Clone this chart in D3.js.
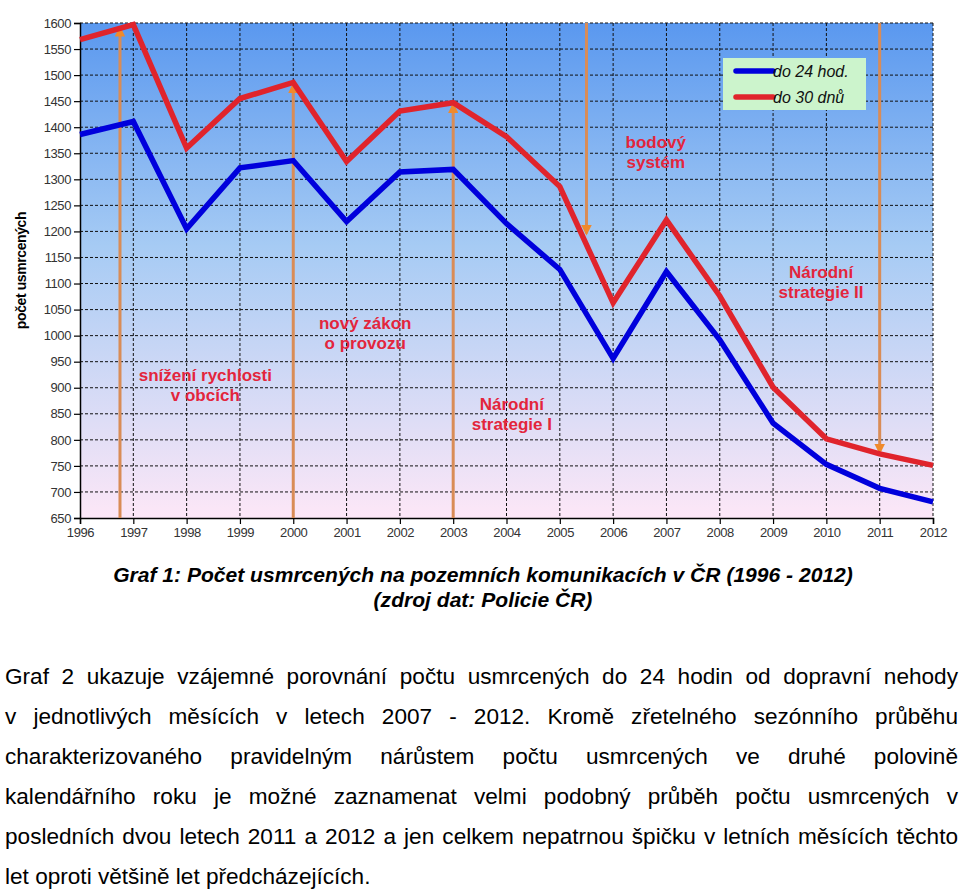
<!DOCTYPE html>
<html>
<head>
<meta charset="utf-8">
<script src="https://cdn.jsdelivr.net/npm/d3@7"></script>
<style>
  body { margin: 0; background: #fff; width: 960px; height: 892px; overflow: hidden; font-family: "Liberation Sans", Arial, sans-serif; }
  #chart { position: absolute; left: 0; top: 0; }
  #text { position: absolute; left: 5px; width: 953px; top: 657px; font-size: 22.6px; line-height: 40px; color: #000; }
  #text div { text-align: justify; text-align-last: justify; white-space: nowrap; }
  #text div.last { text-align-last: left; }
</style>
</head>
<body>
<div id="chart"></div>
<div id="text"></div>
<script>
// data
var years = [1996, 1997, 1998, 1999, 2000, 2001, 2002, 2003, 2004, 2005, 2006, 2007, 2008, 2009, 2010, 2011, 2012];
var do24hod = [1386, 1411, 1205, 1322, 1336, 1219, 1314, 1319, 1215, 1127, 956, 1123, 992, 832, 753, 707, 681];
var do30dnu = [1568, 1597, 1360, 1455, 1486, 1334, 1431, 1447, 1382, 1286, 1063, 1222, 1076, 901, 802, 773, 751];
var yTicks = d3.range(650, 1601, 50);
var seriesNames = ["do 24 hod.", "do 30 dnů"];

// measures (vertical arrows) : position in years, value at arrow tip, direction
var eventYears = [1996.75, 2000, 2003, 2005.5, 2011];
var eventTips = [1590, 1481, 1443, 1196, 776];
var eventDirs = ["up", "up", "up", "down", "down"];

var notes = [
  { x: 1998.35, y: 913, lines: ["snížení rychlosti", "v obcích"] },
  { x: 2001.35, y: 1013, lines: ["nový zákon", "o provozu"] },
  { x: 2004.1, y: 858, lines: ["Národní", "strategie I"] },
  { x: 2006.8, y: 1360, lines: ["bodový", "systém"] },
  { x: 2009.9, y: 1110, lines: ["Národní", "strategie II"] }
];

var captionLines = ["Graf 1: Počet usmrcených na pozemních komunikacích v ČR (1996 - 2012)", "(zdroj dat: Policie ČR)"];
var paragraph = [
  "Graf 2 ukazuje vzájemné porovnání počtu usmrcených do 24 hodin od dopravní nehody",
  "v\u00a0jednotlivých měsících v\u00a0letech 2007 - 2012. Kromě zřetelného sezónního průběhu",
  "charakterizovaného pravidelným nárůstem počtu usmrcených ve druhé polovině",
  "kalendářního roku je možné zaznamenat velmi podobný průběh počtu usmrcených v",
  "posledních dvou letech 2011 a 2012 a jen celkem nepatrnou špičku v letních měsících těchto",
  "let oproti většině let předcházejících."
];

var svg = d3.select("#chart").append("svg")
  .attr("width", 960).attr("height", 640);

var x = d3.scaleLinear().domain([1996, 2012]).range([80, 933]);
var y = d3.scaleLinear().domain([650, 1600]).range([518, 23]);

// background gradient
var defs = svg.append("defs");
var grad = defs.append("linearGradient").attr("id", "bg").attr("x1", 0).attr("y1", 0).attr("x2", 0).attr("y2", 1);
grad.append("stop").attr("offset", "0%").attr("stop-color", "#5a98ef");
grad.append("stop").attr("offset", "45%").attr("stop-color", "#a6cbf4");
grad.append("stop").attr("offset", "100%").attr("stop-color", "#fde7f7");

defs.append("marker").attr("id", "arr").attr("viewBox", "0 0 10 10")
  .attr("refX", 8).attr("refY", 5).attr("markerWidth", 3.5).attr("markerHeight", 3.5)
  .attr("orient", "auto")
  .append("path").attr("d", "M0,0L10,5L0,10Z").attr("fill", "#f08a2c");

svg.append("rect")
  .attr("x", x(1996)).attr("y", y(1600))
  .attr("width", x(2012) - x(1996)).attr("height", y(650) - y(1600))
  .attr("fill", "url(#bg)");

// grid
svg.append("g").selectAll("line").data(yTicks.slice(1)).enter().append("line")
  .attr("x1", x(1996)).attr("x2", x(2012))
  .attr("y1", function (d) { return y(d); }).attr("y2", function (d) { return y(d); })
  .attr("stroke", "#111").attr("stroke-width", 1).attr("stroke-dasharray", "3,2");
svg.append("g").selectAll("line").data(years.slice(1)).enter().append("line")
  .attr("x1", function (d) { return x(d); }).attr("x2", function (d) { return x(d); })
  .attr("y1", y(1600)).attr("y2", y(650))
  .attr("stroke", "#111").attr("stroke-width", 1).attr("stroke-dasharray", "3,2");

// axes
var yAxis = svg.append("g").attr("transform", "translate(" + x(1996) + ",0)")
  .call(d3.axisLeft(y).tickValues(yTicks).tickFormat(d3.format("d")).tickSize(6).tickPadding(3));
var xAxis = svg.append("g").attr("transform", "translate(0," + y(650) + ")")
  .call(d3.axisBottom(x).tickValues(years).tickFormat(d3.format("d")).tickSize(6).tickPadding(4));
[yAxis, xAxis].forEach(function (a) {
  a.select(".domain").attr("stroke", "#000").attr("stroke-width", 1.5);
  a.selectAll(".tick line").attr("stroke", "#000").attr("stroke-width", 1.2);
  a.selectAll("text").attr("fill", "#333").style("font-family", "'Liberation Sans', sans-serif")
    .style("font-size", "13px").style("letter-spacing", "-0.4px");
});

svg.append("text")
  .attr("transform", "translate(26," + y(1125) + ") rotate(-90)")
  .attr("text-anchor", "middle")
  .style("font-size", "14px").style("font-weight", "bold").style("letter-spacing", "-0.4px")
  .text("počet usmrcených");

// event arrows
svg.append("g").selectAll("line").data(eventYears).enter().append("line")
  .attr("x1", function (d) { return x(d); }).attr("x2", function (d) { return x(d); })
  .attr("y1", function (d, i) { return eventDirs[i] === "up" ? y(650) : y(1600); })
  .attr("y2", function (d, i) { return y(eventTips[i]); })
  .attr("stroke", "#d98c56").attr("stroke-width", 3)
  .attr("marker-end", "url(#arr)");

// series lines
var line = d3.line()
  .x(function (d, i) { return x(years[i]); })
  .y(function (d) { return y(d); });
svg.append("path").datum(do24hod)
  .attr("fill", "none").attr("stroke", "#0000dc").attr("stroke-width", 5.5)
  .attr("stroke-linejoin", "miter").attr("d", line);
svg.append("path").datum(do30dnu)
  .attr("fill", "none").attr("stroke", "#e0242c").attr("stroke-width", 5.5)
  .attr("stroke-linejoin", "miter").attr("d", line);

// annotations
var ng = svg.append("g").selectAll("text").data(notes).enter().append("text")
  .attr("text-anchor", "middle")
  .attr("fill", "#e3253c")
  .style("font-size", "17px").style("font-weight", "bold");
ng.selectAll("tspan").data(function (d) { return d.lines.map(function (l) { return { d: d, l: l }; }); })
  .enter().append("tspan")
  .attr("x", function (t) { return x(t.d.x); })
  .attr("y", function (t, i) { return y(t.d.y) + i * 20; })
  .text(function (t) { return t.l; });

// legend
var lg = svg.append("g");
lg.append("rect").attr("x", 723).attr("y", 58).attr("width", 143).attr("height", 52).attr("fill", "#ccf4cc");
var legColors = ["#0000dc", "#e0242c"];
seriesNames.forEach(function (n, i) {
  lg.append("line").attr("x1", 736).attr("x2", 773).attr("y1", 71 + i * 26).attr("y2", 71 + i * 26)
    .attr("stroke", legColors[i]).attr("stroke-width", 5.5).attr("stroke-linecap", "round");
  lg.append("text").attr("x", 773).attr("y", 77 + i * 26)
    .style("font-size", "16px").style("font-style", "italic").attr("fill", "#111")
    .text(n);
});

// caption (narrow bold italic, squeezed horizontally)
var cap = svg.append("g").attr("transform", "translate(483,0)");
var capText = cap.selectAll("text").data(captionLines).enter().append("text")
  .attr("text-anchor", "middle")
  .attr("y", function (d, i) { return 582 + i * 25; })
  .style("font-size", "20px").style("font-weight", "bold").style("font-style", "italic")
  .text(function (d) { return d; });
var w0 = capText.node().getComputedTextLength();
capText.attr("transform", "scale(" + (740 / w0) + ",1)");

// paragraph
d3.select("#text").selectAll("div").data(paragraph).enter().append("div")
  .attr("class", function (d, i) { return i === paragraph.length - 1 ? "last" : null; })
  .text(function (d) { return d; });
</script>
</body>
</html>
